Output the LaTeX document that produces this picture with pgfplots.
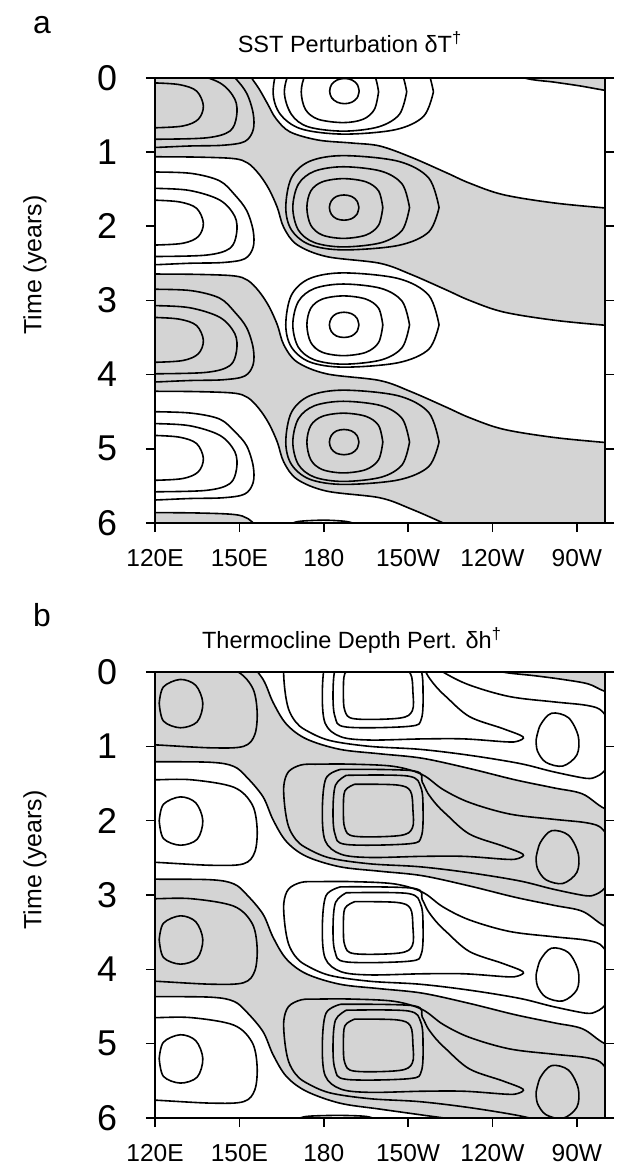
\documentclass[border=0pt]{standalone}
\usepackage{fontspec}
\setmainfont{Liberation Sans}
\usepackage{pgfplots}
\pgfplotsset{compat=1.18}
\definecolor{stip}{gray}{0.83}

\pgfplotsset{
  hov/.style={
    scale only axis, width=225bp,
    xmin=120, xmax=280, ymin=0, ymax=6, y dir=reverse,
    xtick={120,150,180,210,240,270},
    xticklabels={120E,150E,180,150W,120W,90W},
    ytick={0,1,2,3,4,5,6},
    xtick pos=lower, xticklabel pos=lower, ytick pos=both, yticklabel pos=lower,
    tick align=outside, major tick length=4.5bp,
    tick style={line width=0.8bp, black},
    axis line style={line width=0.9bp},
    /pgf/number format/assume math mode=true,
    x tick label style={font=\fontsize{12.3}{14}\selectfont, yshift=-5bp},
    y tick label style={font=\fontsize{18}{20}\selectfont, xshift=-11bp},
    axis on top, clip=true,
  },
  ctr/.style={black, line width=0.8bp, smooth, tension=0.55, mark=none},
  shd/.style={fill=stip, draw=none, smooth, tension=0.55, mark=none},
}

\begin{document}
\begin{tikzpicture}
\useasboundingbox (0,0) rectangle (310.5bp,-582bp);

% ---------------- panel a ----------------
\node[anchor=base west, font=\fontsize{16}{18}\selectfont] at (13bp,-16.5bp) {a};
\node[anchor=base, font=\fontsize{11.8}{13}\selectfont] at (175bp,-26bp) {SST Perturbation δT\textsuperscript{†}};
\node[rotate=90, font=\fontsize{12.5}{14}\selectfont] at (17.5bp,-132.5bp) {Time (years)};

\begin{axis}[hov, at={(77.5bp,-38.85bp)}, anchor=north west, height=222.65bp]
% shaded (positive) regions
\addplot[shd] coordinates {(238,-0.2) (251,0) (262,0.06) (271,0.11) (280,0.17) (292,0.24) (292,-0.5) (238,-0.5)};
\addplot[shd] coordinates {(110,-0.5) (146,-0.5) (152,-0.15) (154.3,0) (157,0.15) (160,0.35) (163,0.55) (168,0.73) (178,0.84) (190,0.88) (199.9,0.92) (211,1.07) (223.6,1.28) (231.8,1.42) (243.7,1.575) (261.4,1.685) (280,1.755) (292,1.79) (292,3.36) (280,3.335) (261.4,3.265) (243.7,3.155) (231.8,3.0) (223.6,2.86) (211,2.65) (199.9,2.5) (181,2.41) (170.5,2.25) (165.8,2.02) (163.5,1.75) (160.5,1.5) (157,1.3) (153,1.15) (148,1.09) (135,1.07) (120,1.065) (110,1.06)};
\addplot[shd] coordinates {(110,2.64) (120,2.645) (135,2.65) (148,2.67) (153,2.73) (157,2.88) (160.5,3.08) (163.5,3.33) (165.8,3.6) (170.5,3.83) (181,3.99) (199.9,4.08) (211,4.23) (223.6,4.44) (231.8,4.58) (243.7,4.735) (261.4,4.845) (280,4.915) (292,4.95) (292,6.5) (235,6.5) (230,6.15) (223.6,6.02) (211,5.81) (199.9,5.66) (181,5.57) (170.5,5.41) (165.8,5.18) (163.5,4.91) (160.5,4.66) (157,4.46) (153,4.31) (148,4.25) (135,4.23) (120,4.225) (110,4.22)};
\addplot[shd] coordinates {(110,5.86) (120,5.86) (135,5.865) (148,5.885) (153,5.94) (157,6.08) (160,6.2) (162,6.6) (110,6.6)};
% zero lines
\addplot[ctr] coordinates {(238,-0.2) (251,0) (262,0.06) (271,0.11) (280,0.17) (292,0.24)};
\addplot[ctr] coordinates {(152,-0.15) (154.3,0) (157,0.15) (160,0.35) (163,0.55) (168,0.73) (178,0.84) (190,0.88) (199.9,0.92) (211,1.07) (223.6,1.28) (231.8,1.42) (243.7,1.575) (261.4,1.685) (280,1.755) (292,1.79)};
\addplot[ctr] coordinates {(110,1.06) (120,1.065) (135,1.07) (148,1.09) (153,1.15) (157,1.3) (160.5,1.5) (163.5,1.75) (165.8,2.02) (170.5,2.25) (181,2.41) (199.9,2.5) (211,2.65) (223.6,2.86) (231.8,3.0) (243.7,3.155) (261.4,3.265) (280,3.335) (292,3.36)};
\addplot[ctr] coordinates {(110,2.64) (120,2.645) (135,2.65) (148,2.67) (153,2.73) (157,2.88) (160.5,3.08) (163.5,3.33) (165.8,3.6) (170.5,3.83) (181,3.99) (199.9,4.08) (211,4.23) (223.6,4.44) (231.8,4.58) (243.7,4.735) (261.4,4.845) (280,4.915) (292,4.95)};
\addplot[ctr] coordinates {(110,4.22) (120,4.225) (135,4.23) (148,4.25) (153,4.31) (157,4.46) (160.5,4.66) (163.5,4.91) (165.8,5.18) (170.5,5.41) (181,5.57) (199.9,5.66) (211,5.81) (223.6,6.02) (230,6.15)};
\addplot[ctr] coordinates {(110,5.86) (120,5.86) (135,5.865) (148,5.885) (153,5.94) (157,6.08) (160,6.2)};
% western lobes
\addplot[ctr] coordinates {(115,0.07) (120,0.07) (128.9,0.095) (134.8,0.18) (137.2,0.38) (135.4,0.56) (130,0.65) (120,0.675) (115,0.675)};
\addplot[ctr] coordinates {(115,-0.09) (120,-0.09) (132.4,-0.06) (143.1,0.07) (148.4,0.29) (149,0.52) (146.6,0.72) (138.3,0.81) (120,0.83) (115,0.83)};
\addplot[ctr] coordinates {(115,-0.31) (120,-0.31) (133,-0.29) (143,-0.19) (148.4,0) (152.6,0.21) (154.9,0.48) (154.9,0.705) (151.9,0.86) (144.2,0.91) (132.4,0.92) (120,0.94) (115,0.94)};
\addplot[ctr] coordinates {(115,1.65) (120,1.65) (128.9,1.675) (134.8,1.76) (137.2,1.96) (135.4,2.14) (130,2.23) (120,2.255) (115,2.255)};
\addplot[ctr] coordinates {(115,1.49) (120,1.49) (132.4,1.52) (143.1,1.65) (148.4,1.87) (149,2.1) (146.6,2.3) (138.3,2.39) (120,2.41) (115,2.41)};
\addplot[ctr] coordinates {(115,1.27) (120,1.27) (133,1.29) (143,1.39) (148.4,1.58) (152.6,1.79) (154.9,2.06) (154.9,2.285) (151.9,2.44) (144.2,2.49) (132.4,2.5) (120,2.52) (115,2.52)};
\addplot[ctr] coordinates {(115,3.23) (120,3.23) (128.9,3.255) (134.8,3.34) (137.2,3.54) (135.4,3.72) (130,3.81) (120,3.835) (115,3.835)};
\addplot[ctr] coordinates {(115,3.07) (120,3.07) (132.4,3.1) (143.1,3.23) (148.4,3.45) (149,3.68) (146.6,3.88) (138.3,3.97) (120,3.99) (115,3.99)};
\addplot[ctr] coordinates {(115,2.85) (120,2.85) (133,2.87) (143,2.97) (148.4,3.16) (152.6,3.37) (154.9,3.64) (154.9,3.865) (151.9,4.02) (144.2,4.07) (132.4,4.08) (120,4.1) (115,4.1)};
\addplot[ctr] coordinates {(115,4.82) (120,4.82) (128.9,4.845) (134.8,4.93) (137.2,5.13) (135.4,5.31) (130,5.4) (120,5.425) (115,5.425)};
\addplot[ctr] coordinates {(115,4.66) (120,4.66) (132.4,4.69) (143.1,4.82) (148.4,5.04) (149,5.27) (146.6,5.47) (138.3,5.56) (120,5.58) (115,5.58)};
\addplot[ctr] coordinates {(115,4.5) (120,4.5) (133,4.52) (143,4.6) (148.4,4.77) (152.6,4.96) (154.9,5.23) (154.9,5.455) (151.9,5.61) (144.2,5.66) (132.4,5.67) (120,5.69) (115,5.69)};
% central lobes
\addplot[ctr] coordinates {(192.6,0.18) (191.9,0.27) (190,0.33) (187.4,0.35) (184.8,0.33) (182.8,0.27) (182.1,0.18) (182.8,0.09) (184.8,0.03) (187.4,0.01) (190,0.03) (191.9,0.09) (192.6,0.18)};
\addplot[ctr] coordinates {(199.5,0.19) (198,0.428) (194,0.56) (187,0.605) (178,0.56) (173.5,0.428) (172,0.19) (173.5,-0.034) (178,-0.157) (187,-0.2) (194,-0.157) (198,-0.034) (199.5,0.19)};
\addplot[ctr] coordinates {(209.5,0.19) (206.9,0.494) (199.5,0.662) (187,0.72) (174.5,0.662) (168.5,0.494) (166,0.19) (168.5,-0.126) (174.5,-0.3) (187,-0.36) (199.5,-0.3) (206.9,-0.126) (209.5,0.19)};
\addplot[ctr] coordinates {(219,0.19) (215.5,0.52) (205.5,0.7) (187,0.76) (172,0.69) (164.5,0.49) (162,0.19) (164.5,-0.21) (172,-0.434) (187,-0.51) (205.5,-0.434) (215.5,-0.21) (219,0.19)};
\addplot[ctr] coordinates {(192.5,1.75) (191.8,1.84) (189.9,1.9) (187.2,1.92) (184.5,1.9) (182.7,1.84) (182,1.75) (182.7,1.66) (184.5,1.6) (187.2,1.58) (189.9,1.6) (191.8,1.66) (192.5,1.75)};
\addplot[ctr] coordinates {(201,1.75) (199.5,1.988) (195,2.12) (187,2.165) (179.5,2.12) (175.4,1.988) (174,1.75) (175.4,1.526) (179.5,1.403) (187,1.36) (195,1.403) (199.5,1.526) (201,1.75)};
\addplot[ctr] coordinates {(210.5,1.75) (207.9,2.054) (200.5,2.222) (187,2.28) (176.7,2.222) (171,2.054) (169,1.75) (171,1.434) (176.7,1.26) (187,1.2) (200.5,1.26) (207.9,1.434) (210.5,1.75)};
\addplot[ctr] coordinates {(221,1.75) (217.3,2.08) (206.5,2.26) (187,2.32) (175,2.25) (168.5,2.05) (166.5,1.75) (168.5,1.35) (175,1.126) (187,1.05) (206.5,1.126) (217.3,1.35) (221,1.75)};
\addplot[ctr] coordinates {(192.5,3.33) (191.8,3.42) (189.9,3.48) (187.2,3.5) (184.5,3.48) (182.7,3.42) (182,3.33) (182.7,3.24) (184.5,3.18) (187.2,3.16) (189.9,3.18) (191.8,3.24) (192.5,3.33)};
\addplot[ctr] coordinates {(201,3.33) (199.5,3.568) (195,3.7) (187,3.745) (179.5,3.7) (175.4,3.568) (174,3.33) (175.4,3.106) (179.5,2.983) (187,2.94) (195,2.983) (199.5,3.106) (201,3.33)};
\addplot[ctr] coordinates {(210.5,3.33) (207.9,3.634) (200.5,3.802) (187,3.86) (176.7,3.802) (171,3.634) (169,3.33) (171,3.014) (176.7,2.84) (187,2.78) (200.5,2.84) (207.9,3.014) (210.5,3.33)};
\addplot[ctr] coordinates {(221,3.33) (217.3,3.66) (206.5,3.84) (187,3.9) (175,3.83) (168.5,3.63) (166.5,3.33) (168.5,2.93) (175,2.706) (187,2.63) (206.5,2.706) (217.3,2.93) (221,3.33)};
\addplot[ctr] coordinates {(192.5,4.91) (191.8,5.0) (189.9,5.06) (187.2,5.08) (184.5,5.06) (182.7,5.0) (182,4.91) (182.7,4.82) (184.5,4.76) (187.2,4.74) (189.9,4.76) (191.8,4.82) (192.5,4.91)};
\addplot[ctr] coordinates {(201,4.91) (199.5,5.148) (195,5.28) (187,5.325) (179.5,5.28) (175.4,5.148) (174,4.91) (175.4,4.686) (179.5,4.563) (187,4.52) (195,4.563) (199.5,4.686) (201,4.91)};
\addplot[ctr] coordinates {(210.5,4.91) (207.9,5.214) (200.5,5.382) (187,5.44) (176.7,5.382) (171,5.214) (169,4.91) (171,4.594) (176.7,4.42) (187,4.36) (200.5,4.42) (207.9,4.594) (210.5,4.91)};
\addplot[ctr] coordinates {(221,4.91) (217.3,5.24) (206.5,5.42) (187,5.48) (175,5.41) (168.5,5.21) (166.5,4.91) (168.5,4.51) (175,4.286) (187,4.21) (206.5,4.286) (217.3,4.51) (221,4.91)};
\addplot[ctr] coordinates {(166,6.05) (169,6) (172,5.975) (180,5.962) (187,5.975) (190.3,6) (193,6.05)};
\end{axis}

% ---------------- panel b ----------------
\node[anchor=base west, font=\fontsize{16}{18}\selectfont] at (13bp,-313bp) {b};
\node[anchor=base, font=\fontsize{11.8}{13}\selectfont] at (176bp,-324bp) {Thermocline Depth Pert. δh\textsuperscript{†}};
\node[rotate=90, font=\fontsize{12.5}{14}\selectfont] at (17.5bp,-430bp) {Time (years)};

\begin{axis}[hov, at={(77.5bp,-336bp)}, anchor=north west, height=223bp]
% shaded (positive) regions
\addplot[shd] coordinates {(235,-0.1) (243.6,0) (255,0.05) (265,0.1) (274,0.16) (280,0.26) (292,0.4) (292,-0.5) (235,-0.5)};
\addplot[shd] coordinates {(110,-0.5) (142,-0.5) (145,-0.45) (148,-0.31) (152.5,-0.17) (158.4,0.098) (162,0.41) (166.7,0.7) (173.8,0.9) (185.7,1.04) (199.9,1.1) (215,1.16) (232,1.3) (248,1.45) (262,1.56) (272,1.64) (280,1.84) (292,2.0) (292,3.6) (280,3.42) (272,3.22) (262,3.14) (248,3.03) (232,2.88) (215,2.74) (199.9,2.68) (185.7,2.62) (173.8,2.48) (166.7,2.28) (162,1.99) (158.4,1.678) (152.5,1.41) (148,1.27) (140,1.215) (120,1.207) (110,1.205)};
\addplot[shd] coordinates {(110,2.785) (120,2.787) (140,2.795) (148,2.85) (152.5,2.99) (158.4,3.258) (162,3.57) (166.7,3.86) (173.8,4.06) (185.7,4.2) (199.9,4.26) (215,4.32) (232,4.46) (248,4.61) (262,4.72) (272,4.8) (280,5.0) (292,5.16) (292,6.5) (240,6.5) (235,6.1) (226,6.02) (215,5.96) (199.9,5.88) (185.7,5.8) (173.8,5.64) (166.7,5.44) (162,5.15) (158.4,4.838) (152.5,4.57) (148,4.43) (140,4.375) (120,4.367) (110,4.365)};
% zero lines
\addplot[ctr] coordinates {(235,-0.1) (243.6,0) (255,0.05) (265,0.1) (274,0.16) (280,0.26) (292,0.4)};
\addplot[ctr] coordinates {(145,-0.45) (148,-0.31) (152.5,-0.17) (158.4,0.098) (162,0.41) (166.7,0.7) (173.8,0.9) (185.7,1.04) (199.9,1.1) (215,1.16) (232,1.3) (248,1.45) (262,1.56) (272,1.64) (280,1.84) (292,2.0)};
\addplot[ctr] coordinates {(110,1.205) (120,1.207) (140,1.215) (148,1.27) (152.5,1.41) (158.4,1.678) (162,1.99) (166.7,2.28) (173.8,2.48) (185.7,2.62) (199.9,2.68) (215,2.74) (232,2.88) (248,3.03) (262,3.14) (272,3.22) (280,3.42) (292,3.6)};
\addplot[ctr] coordinates {(110,2.785) (120,2.787) (140,2.795) (148,2.85) (152.5,2.99) (158.4,3.258) (162,3.57) (166.7,3.86) (173.8,4.06) (185.7,4.2) (199.9,4.26) (215,4.32) (232,4.46) (248,4.61) (262,4.72) (272,4.8) (280,5.0) (292,5.16)};
\addplot[ctr] coordinates {(110,4.365) (120,4.367) (140,4.375) (148,4.43) (152.5,4.57) (158.4,4.838) (162,5.15) (166.7,5.44) (173.8,5.64) (185.7,5.8) (199.9,5.88) (215,5.96) (226,6.02) (235,6.1)};
% western lobes
\addplot[ctr] coordinates {(121.5,0.42) (123,0.2) (129,0.1) (134.5,0.18) (137,0.42) (135,0.67) (129,0.75) (123,0.66) (121.5,0.42)};
\addplot[ctr] coordinates {(115,-0.13) (120,-0.13) (133,-0.13) (148,-0.03) (154.5,0.2) (156.3,0.52) (155.5,0.84) (151.5,1.0) (140,1.02) (120,0.98) (115,0.98)};
\addplot[ctr] coordinates {(121.5,2) (123,1.78) (129,1.68) (134.5,1.76) (137,2) (135,2.25) (129,2.33) (123,2.24) (121.5,2)};
\addplot[ctr] coordinates {(115,1.45) (120,1.45) (133,1.45) (148,1.55) (154.5,1.78) (156.3,2.1) (155.5,2.42) (151.5,2.58) (140,2.6) (120,2.56) (115,2.56)};
\addplot[ctr] coordinates {(121.5,3.6) (123,3.38) (129,3.28) (134.5,3.36) (137,3.6) (135,3.85) (129,3.93) (123,3.84) (121.5,3.6)};
\addplot[ctr] coordinates {(115,3.05) (120,3.05) (133,3.05) (148,3.15) (154.5,3.38) (156.3,3.7) (155.5,4.02) (151.5,4.18) (140,4.2) (120,4.16) (115,4.16)};
\addplot[ctr] coordinates {(121.5,5.2) (123,4.98) (129,4.88) (134.5,4.96) (137,5.2) (135,5.45) (129,5.53) (123,5.44) (121.5,5.2)};
\addplot[ctr] coordinates {(115,4.65) (120,4.65) (133,4.65) (148,4.75) (154.5,4.98) (156.3,5.3) (155.5,5.62) (151.5,5.78) (140,5.8) (120,5.76) (115,5.76)};
% central lobes: inner, level 3, level 2 with eastward tongue, level 1 reaching the eastern edge
\addplot[ctr] coordinates {(191,-0.07) (206,-0.06) (210.8,0.02) (211.7,0.27) (211.5,0.52) (207,0.62) (191,0.63) (187.5,0.52) (187,0.27) (187.5,0.02) (191,-0.07)};
\addplot[ctr] coordinates {(188,-0.19) (210,-0.18) (214.5,-0.03) (215.3,0.27) (214.7,0.63) (210.5,0.73) (188,0.74) (184,0.6) (183.3,0.27) (184.2,-0.06) (188,-0.19)};
\addplot[ctr] coordinates {(186,-0.27) (212,-0.25) (215,-0.1) (217,0.05) (220,0.2) (223.5,0.332) (231.8,0.6) (243.6,0.76) (250.8,0.87) (249,0.93) (245,0.94) (230,0.9) (215,0.9) (196.3,0.915) (186,0.87) (180.5,0.69) (179.5,0.27) (180.8,-0.15) (186,-0.27)};
\addplot[ctr] coordinates {(280.5,0.6) (279,0.53) (277,0.48) (272,0.44) (261.4,0.4) (246,0.33) (231.8,0.175) (222.4,0) (215,-0.2) (205,-0.31) (190,-0.34) (178,-0.34) (172,-0.33) (167.5,-0.24) (165.8,-0.05) (166.2,0.25) (167.5,0.5) (170,0.67) (173.5,0.78) (182,0.92) (196.3,1.0) (214.1,1.04) (231.8,1.12) (249.6,1.23) (261.4,1.34) (273.2,1.43) (276.8,1.41) (279,1.36) (280.5,1.3)};
\addplot[ctr] coordinates {(191,1.51) (206,1.52) (210.8,1.6) (211.7,1.85) (211.5,2.1) (207,2.2) (191,2.21) (187.5,2.1) (187,1.85) (187.5,1.6) (191,1.51)};
\addplot[ctr] coordinates {(188,1.39) (210,1.4) (214.5,1.55) (215.3,1.85) (214.7,2.21) (210.5,2.31) (188,2.32) (184,2.18) (183.3,1.85) (184.2,1.52) (188,1.39)};
\addplot[ctr] coordinates {(186,1.31) (212,1.33) (215,1.48) (217,1.63) (220,1.78) (223.5,1.912) (231.8,2.18) (243.6,2.34) (250.8,2.45) (249,2.51) (245,2.52) (230,2.48) (215,2.48) (196.3,2.495) (186,2.45) (180.5,2.27) (179.5,1.85) (180.8,1.43) (186,1.31)};
\addplot[ctr] coordinates {(280.5,2.18) (279,2.11) (277,2.06) (272,2.02) (261.4,1.98) (246,1.91) (231.8,1.755) (222.4,1.58) (215,1.38) (205,1.27) (190,1.24) (178,1.24) (172,1.25) (167.5,1.34) (165.8,1.53) (166.2,1.83) (167.5,2.08) (170,2.25) (173.5,2.36) (182,2.5) (196.3,2.58) (214.1,2.62) (231.8,2.7) (249.6,2.81) (261.4,2.92) (273.2,3.01) (276.8,2.99) (279,2.94) (280.5,2.88)};
\addplot[ctr] coordinates {(191,3.09) (206,3.1) (210.8,3.18) (211.7,3.43) (211.5,3.68) (207,3.78) (191,3.79) (187.5,3.68) (187,3.43) (187.5,3.18) (191,3.09)};
\addplot[ctr] coordinates {(188,2.97) (210,2.98) (214.5,3.13) (215.3,3.43) (214.7,3.79) (210.5,3.89) (188,3.9) (184,3.76) (183.3,3.43) (184.2,3.1) (188,2.97)};
\addplot[ctr] coordinates {(186,2.89) (212,2.91) (215,3.06) (217,3.21) (220,3.36) (223.5,3.492) (231.8,3.76) (243.6,3.92) (250.8,4.03) (249,4.09) (245,4.1) (230,4.06) (215,4.06) (196.3,4.075) (186,4.03) (180.5,3.85) (179.5,3.43) (180.8,3.01) (186,2.89)};
\addplot[ctr] coordinates {(280.5,3.76) (279,3.69) (277,3.64) (272,3.6) (261.4,3.56) (246,3.49) (231.8,3.335) (222.4,3.16) (215,2.96) (205,2.85) (190,2.82) (178,2.82) (172,2.83) (167.5,2.92) (165.8,3.11) (166.2,3.41) (167.5,3.66) (170,3.83) (173.5,3.94) (182,4.08) (196.3,4.16) (214.1,4.2) (231.8,4.28) (249.6,4.39) (261.4,4.5) (273.2,4.59) (276.8,4.57) (279,4.52) (280.5,4.46)};
\addplot[ctr] coordinates {(191,4.67) (206,4.68) (210.8,4.76) (211.7,5.01) (211.5,5.26) (207,5.36) (191,5.37) (187.5,5.26) (187,5.01) (187.5,4.76) (191,4.67)};
\addplot[ctr] coordinates {(188,4.55) (210,4.56) (214.5,4.71) (215.3,5.01) (214.7,5.37) (210.5,5.47) (188,5.48) (184,5.34) (183.3,5.01) (184.2,4.68) (188,4.55)};
\addplot[ctr] coordinates {(186,4.47) (212,4.49) (215,4.64) (217,4.79) (220,4.94) (223.5,5.072) (231.8,5.34) (243.6,5.5) (250.8,5.61) (249,5.67) (245,5.68) (230,5.64) (215,5.64) (196.3,5.655) (186,5.61) (180.5,5.43) (179.5,5.01) (180.8,4.59) (186,4.47)};
\addplot[ctr] coordinates {(280.5,5.34) (279,5.27) (277,5.22) (272,5.18) (261.4,5.14) (246,5.07) (231.8,4.915) (222.4,4.74) (215,4.54) (205,4.43) (190,4.4) (178,4.4) (172,4.41) (167.5,4.5) (165.8,4.69) (166.2,4.99) (167.5,5.24) (170,5.41) (173.5,5.52) (182,5.66) (196.3,5.74) (214.1,5.78) (231.8,5.86) (249.6,5.97) (261.4,6.08)};
\addplot[ctr] coordinates {(168,6.05) (171.5,6) (175,5.975) (185,5.965) (194,5.975) (197.4,6) (200,6.05)};
% eastern lobes
\addplot[ctr] coordinates {(255.5,0.915) (257,0.715) (261,0.555) (267,0.615) (270.5,0.865) (270,1.115) (265,1.265) (259,1.215) (256,1.065) (255.5,0.915)};
\addplot[ctr] coordinates {(255.5,2.495) (257,2.295) (261,2.135) (267,2.195) (270.5,2.445) (270,2.695) (265,2.845) (259,2.795) (256,2.645) (255.5,2.495)};
\addplot[ctr] coordinates {(255.5,4.075) (257,3.875) (261,3.715) (267,3.775) (270.5,4.025) (270,4.275) (265,4.425) (259,4.375) (256,4.225) (255.5,4.075)};
\addplot[ctr] coordinates {(255.5,5.655) (257,5.455) (261,5.295) (267,5.355) (270.5,5.605) (270,5.855) (265,6.005) (259,5.955) (256,5.805) (255.5,5.655)};
\end{axis}
\end{tikzpicture}
\end{document}
